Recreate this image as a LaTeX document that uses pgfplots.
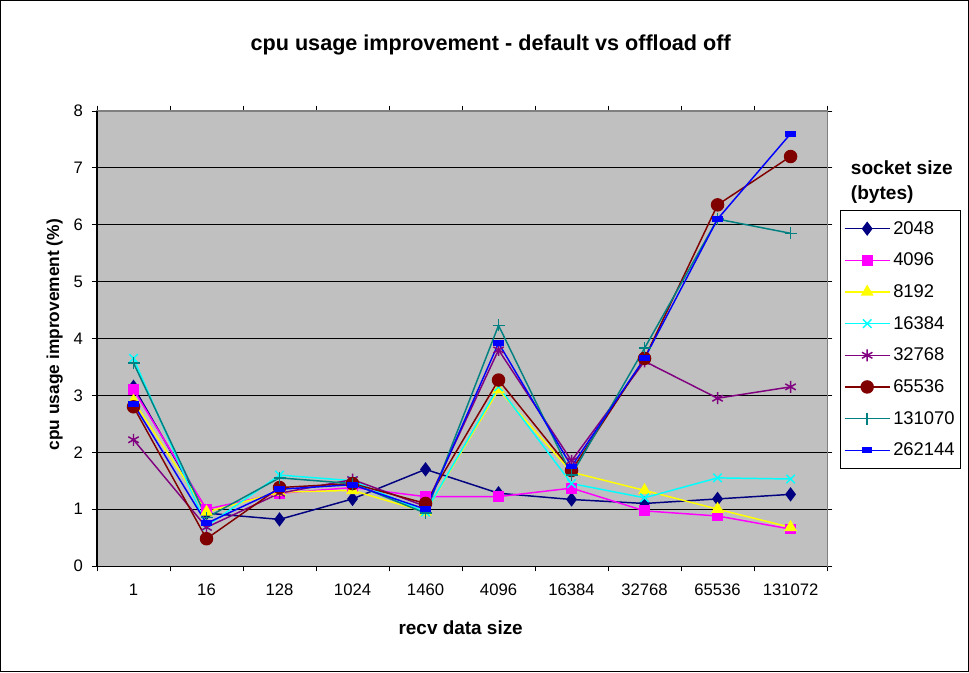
\documentclass[border=0pt]{standalone}
\usepackage{pgfplots}
\pgfplotsset{compat=1.18}
\usepackage{fontspec}
\setmainfont{Liberation Sans}
\definecolor{cA}{HTML}{000080}
\definecolor{cB}{HTML}{FF00FF}
\definecolor{cC}{HTML}{FFFF00}
\definecolor{cD}{HTML}{00FFFF}
\definecolor{cE}{HTML}{800080}
\definecolor{cF}{HTML}{800000}
\definecolor{cG}{HTML}{008080}
\definecolor{cH}{HTML}{0000FF}
\definecolor{plotgray}{HTML}{C0C0C0}
\definecolor{framegray}{HTML}{808080}
\begin{document}
\begin{tikzpicture}[x=1pt,y=1pt]
\draw[black, line width=0.8pt] (0.4,0.4) rectangle (726.3,503.6);
\begin{axis}[
  at={(72.75pt,79.5pt)}, anchor=south west,
  width=547.5pt, height=341.25pt, scale only axis,
  xmin=-0.5, xmax=9.5, ymin=0, ymax=8,
  xtick={0,...,9},
  xticklabels={1,16,128,1024,1460,4096,16384,32768,65536,131072},
  major x tick style={draw=none},
  minor xtick={-0.5,0.5,...,9.5},
  ytick={0,...,8},
  tick align=outside,
  major tick length=4pt, minor tick length=4pt,
  tick style={black, line width=0.6pt},
  ymajorgrids, grid style={black, line width=0.6pt},
  axis line style={framegray, line width=0.8pt},
  axis background/.style={fill=plotgray},
  tick label style={font=\fontsize{12.5}{14}\selectfont},
  xticklabel style={yshift=-6pt},
  yticklabel style={xshift=-3pt},
  /pgf/number format/assume math mode=true,
  clip=false,
  every axis plot/.append style={line width=1.1pt},
  legend cell align=left,
  legend style={at={(1.0178,0.782)}, anchor=north west, draw=black, line width=0.6pt, fill=white,
    font=\fontsize{13.8}{16}\selectfont, row sep=8.6pt, inner xsep=2.5pt, inner ysep=6pt},
  legend image code/.code={\draw[mark repeat=2,mark phase=2,#1] plot coordinates {(0pt,0pt) (17pt,0pt) (34pt,0pt)};},
  after end axis/.code={
    \draw[black, line width=0.8pt] (rel axis cs:0,1) -- (rel axis cs:0,0) -- (rel axis cs:1,0);
  },
]
\addplot[cA, mark=diamond*, mark size=4.5pt, mark options={solid, fill=cA}] coordinates {
(0,3.15) (1,0.93) (2,0.82) (3,1.18) (4,1.70) (5,1.28) (6,1.17) (7,1.10) (8,1.18) (9,1.26)};
\addlegendentry{2048}
\addplot[cB, mark=square*, mark size=3.5pt, mark options={solid, fill=cB}] coordinates {
(0,3.10) (1,1.00) (2,1.28) (3,1.38) (4,1.22) (5,1.22) (6,1.37) (7,0.97) (8,0.88) (9,0.65)};
\addlegendentry{4096}
\addplot[cC, mark=triangle*, mark size=4.5pt, mark options={solid, fill=cC}] coordinates {
(0,2.90) (1,0.95) (2,1.30) (3,1.33) (4,0.95) (5,3.10) (6,1.65) (7,1.33) (8,1.00) (9,0.68)};
\addlegendentry{8192}
\addplot[cD, mark=x, mark size=4.5pt, mark options={solid, line width=1.1pt}] coordinates {
(0,3.65) (1,0.70) (2,1.60) (3,1.50) (4,0.95) (5,3.15) (6,1.45) (7,1.20) (8,1.55) (9,1.53)};
\addlegendentry{16384}
\addplot[cE, mark=asterisk, mark size=4.5pt, mark options={solid, line width=1.1pt}] coordinates {
(0,2.22) (1,0.68) (2,1.28) (3,1.52) (4,1.05) (5,3.80) (6,1.85) (7,3.60) (8,2.95) (9,3.15)};
\addlegendentry{32768}
\addplot[cF, mark=*, mark size=4.5pt, mark options={solid, fill=cF}] coordinates {
(0,2.80) (1,0.48) (2,1.38) (3,1.45) (4,1.10) (5,3.27) (6,1.68) (7,3.65) (8,6.35) (9,7.20)};
\addlegendentry{65536}
\addplot[cG, mark=+, mark size=4.5pt, mark options={solid, line width=1.1pt}] coordinates {
(0,3.57) (1,0.85) (2,1.55) (3,1.45) (4,0.93) (5,4.23) (6,1.60) (7,3.83) (8,6.10) (9,5.85)};
\addlegendentry{131070}
\addplot[cH, mark=square*, mark size=2.2pt, mark options={solid, fill=cH, xscale=1.5, yscale=0.75}] coordinates {
(0,2.85) (1,0.75) (2,1.35) (3,1.43) (4,1.00) (5,3.92) (6,1.75) (7,3.65) (8,6.10) (9,7.60)};
\addlegendentry{262144}
\end{axis}
\node[font=\bfseries\fontsize{16.2}{19}\selectfont] at (368pt,470pt) {cpu usage improvement - default vs offload off};
\node[font=\bfseries\fontsize{14.2}{17}\selectfont] at (345.5pt,33pt) {recv data size};
\node[font=\bfseries\fontsize{13}{15}\selectfont, rotate=90] at (41pt,253pt) {cpu usage improvement (\%)};
\node[font=\bfseries\fontsize{14.3}{19}\selectfont, anchor=north west, align=left, inner sep=0pt] at (638pt,384pt) {socket size\\(bytes)};
\end{tikzpicture}
\end{document}
